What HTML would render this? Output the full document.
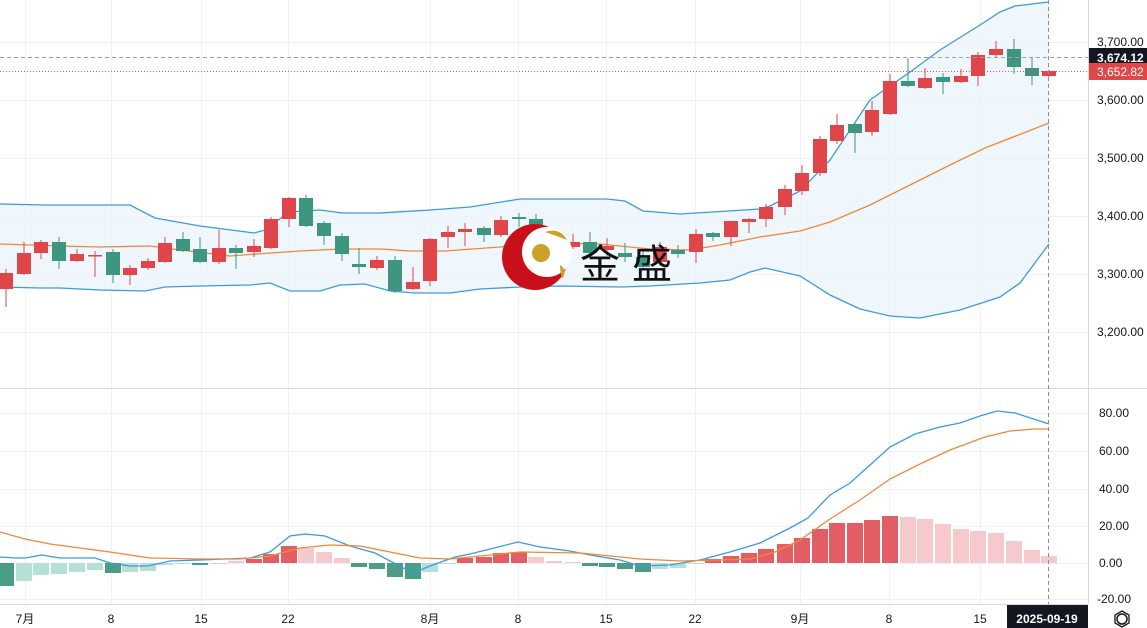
<!DOCTYPE html>
<html><head><meta charset="utf-8"><style>
html,body{margin:0;padding:0;background:#fff;width:1147px;height:628px;overflow:hidden}
svg{display:block;font-family:"Liberation Sans","Noto Sans CJK SC",sans-serif}
</style></head><body>
<svg id="s" width="1147" height="628" viewBox="0 0 1147 628" xmlns="http://www.w3.org/2000/svg">
<rect width="1147" height="628" fill="#fff"/>
<g id="grid" stroke="#f0f1f4" stroke-width="1"></g>
<polygon id="band" fill="#eaf3fb" fill-opacity="0.75"/>
<polyline id="up" fill="none" stroke="#3d9ae0" stroke-width="1.3"/>
<polyline id="lo" fill="none" stroke="#3d9ae0" stroke-width="1.3"/>
<polyline id="mid" fill="none" stroke="#f0883a" stroke-width="1.3"/>
<g id="candles"></g>
<g id="hist"></g>
<polyline id="macd" fill="none" stroke="#3d9ae0" stroke-width="1.3"/>
<polyline id="sig" fill="none" stroke="#f0883a" stroke-width="1.3"/>
<!-- logo -->
<g>
<circle cx="535" cy="257" r="33" fill="#c8101a"/>
<circle cx="547" cy="252" r="25" fill="#fff"/>
<path d="M545 232 q15 -5 22 8 q-10 -4 -22 -8z" fill="#c9a227"/>
<path d="M560 265 q8 5 2 14 q-2 -8 -2 -14z" fill="#c9a227"/>
<circle cx="541" cy="253" r="9" fill="#c9a227"/>
<text x="580" y="278" font-size="40" fill="#111" font-family="'Noto Sans CJK SC',sans-serif" letter-spacing="12">金盛</text>
</g>
<!-- separators -->
<line x1="0" y1="388.5" x2="1147" y2="388.5" stroke="#d6d8de"/>
<line x1="1088.5" y1="0" x2="1088.5" y2="604" stroke="#d6d8de"/>
<line x1="0" y1="604.5" x2="1088" y2="604.5" stroke="#d6d8de"/>
<line x1="0" y1="57.5" x2="1088" y2="57.5" stroke="#9aa0a8" stroke-dasharray="4,3"/>
<line x1="0" y1="71.5" x2="1088" y2="71.5" stroke="#e05050" stroke-dasharray="1,2"/>
<line x1="1048.5" y1="0" x2="1048.5" y2="604" stroke="#8a8f98" stroke-dasharray="4,3"/>
<g id="axis" font-size="12" fill="#131722"></g>
<rect x="1089" y="48" width="58" height="18" fill="#131722"/>
<text x="1097" y="62" font-size="12" fill="#fff" font-weight="bold">3,674.12</text>
<rect x="1089" y="63" width="58" height="17" fill="#e04848"/>
<text x="1097" y="76" font-size="12" fill="#fff">3,652.82</text>
<rect x="1007" y="605" width="81" height="23" fill="#131722"/>
<text x="1047" y="623" font-size="12" fill="#fff" text-anchor="middle" font-weight="bold">2025-09-19</text>
<circle cx="1122" cy="619" r="5" fill="none" stroke="#131722" stroke-width="1.5"/>
<polygon points="1122,611 1129,615 1129,623 1122,627 1115,623 1115,615" fill="none" stroke="#131722" stroke-width="1.3"/>
</svg>
<script>
var NS="http://www.w3.org/2000/svg";
function el(p,t,a,txt){var e=document.createElementNS(NS,t);for(var k in a)e.setAttribute(k,a[k]);if(txt)e.textContent=txt;document.getElementById(p).appendChild(e);return e;}
var vx=[25,111,201,288,430,518,606,695,800,889,980];
vx.forEach(function(x){el("grid","line",{x1:x+.5,y1:0,x2:x+.5,y2:604});});
[42,100,158,216,274,332,413,451,489,526,563,599].forEach(function(y){el("grid","line",{x1:0,y1:y+.5,x2:1088,y2:y+.5});});
// axis labels
[["3,700.00",42],["3,600.00",100],["3,500.00",158],["3,400.00",216],["3,300.00",274],["3,200.00",332],["80.00",413],["60.00",451],["40.00",489],["20.00",526],["0.00",563],["-20.00",599]].forEach(function(a){
 var x=a[0].length>6?1097:1099; if(a[0]=="-20.00")x=1097;
 el("axis","text",{x:x,y:a[1]+4},a[0]);});
[["7月",25],["8",111],["15",201],["22",288],["8月",430],["8",518],["15",606],["22",695],["9月",800],["8",889],["15",980]].forEach(function(a){el("axis","text",{x:a[1],y:623,"text-anchor":"middle"},a[0]);});
function pts(a){return a.map(function(p){return p[0]+","+p[1]}).join(" ");}
var up=[[0,204],[46,205],[130,205],[155,218],[200,226],[254,233],[265,230],[289,212],[320,210],[342,213],[380,213],[430,210],[470,207],[520,199],[607,199],[625,201],[643,211],[680,214],[713,212],[760,209],[770,206],[800,191],[830,160],[870,100],[910,72],[940,50],[980,25],[1000,12],[1015,6],[1049,2]];
var lo=[[0,287],[40,288],[60,288],[100,290],[145,291],[165,287],[200,286],[250,285],[270,283],[290,291],[320,291],[340,285],[365,284],[390,291],[415,293],[450,293],[480,289],[520,287],[560,286],[620,287],[650,286],[700,283],[730,280],[750,272],[765,268],[800,276],[830,295],[860,309],[890,316],[920,318],[960,310],[1000,297],[1020,283],[1049,244]];
var mid=[[0,244],[60,246],[100,247],[150,246],[180,250],[230,256],[270,253],[300,251],[340,249],[380,249],[410,251],[445,251],[500,247],[540,243],[600,244],[650,249],[690,250],[720,245],[760,237],[800,231],[830,222],[870,205],[910,185],[950,165],[985,148],[1049,123]];
document.getElementById("up").setAttribute("points",pts(up));
document.getElementById("lo").setAttribute("points",pts(lo));
document.getElementById("mid").setAttribute("points",pts(mid));
document.getElementById("band").setAttribute("points",pts(up)+" "+pts(lo.slice().reverse()));
var C=[[6,'r',273,289,269,307],[24,'r',253,274,242,275],[41,'r',242,253,240,259],[59,'g',242,261,237,269],[77,'r',254,261,249,262],[95,'r',255,256,251,277],[113,'g',252,275,249,283],[130,'r',268,275,265,285],[148,'r',261,268,258,270],[165,'r',243,262,237,263],[183,'g',239,251,232,252],[200,'g',249,262,237,263],[219,'r',248,262,230,264],[236,'g',248,253,245,269],[254,'r',246,252,239,257],[271,'r',219,248,217,249],[289,'r',198,219,197,227],[306,'g',198,226,195,227],[324,'g',223,236,221,245],[342,'g',236,254,233,261],[359,'g',264,267,248,274],[377,'r',260,268,256,270],[395,'g',260,291,256,293],[413,'r',282,289,267,290],[430,'r',239,281,238,286],[448,'r',232,237,226,248],[465,'r',229,232,223,246],[484,'g',228,235,226,242],[501,'r',220,235,216,237],[519,'g',217,219,213,227],[536,'g',219,250,214,252],[554,'r',248,251,233,257],[573,'r',242,247,234,249],[590,'g',242,253,232,257],[607,'r',246,250,238,256],[625,'g',253,257,243,262],[643,'g',257,267,250,270],[660,'r',247,262,242,266],[678,'g',250,254,245,258],[696,'r',234,252,229,263],[713,'g',233,237,232,241],[731,'r',221,237,221,246],[749,'r',219,222,218,233],[766,'r',207,219,204,227],[785,'r',189,207,185,215],[802,'r',173,191,165,195],[820,'r',139,173,136,176],[837,'r',125,141,114,144],[855,'g',124,133,123,153],[872,'r',110,132,101,136],[890,'r',81,114,74,115],[908,'g',81,86,58,87],[925,'r',78,88,68,89],[943,'g',77,82,73,94],[961,'r',76,82,69,83],[978,'r',55,76,52,86],[996,'r',49,55,41,58],[1014,'g',49,67,39,74],[1032,'g',68,76,58,85],[1049,'r',71,76,70,77]];
C.forEach(function(c){var col=c[1]=='r'?'#e0454a':'#3e9580';
 el("candles","line",{x1:c[0],y1:c[4],x2:c[0],y2:c[5],stroke:col,"stroke-width":1});
 el("candles","rect",{x:c[0]-7,y:c[2],width:14,height:Math.max(1.5,c[3]-c[2]),fill:col});});
// histogram: [center, top/bottom y, type] type: R dark red, P pink, G dark green, L light green
var H=[[6,586,'G'],[24,581,'L'],[41,575,'L'],[59,574,'L'],[77,572,'L'],[95,570,'L'],[113,573,'G'],[130,572,'L'],[148,571,'L'],[165,565,'L'],[183,563.5,'L'],[200,565,'G'],[219,563.5,'L'],[236,561,'P'],[254,559,'R'],[271,554,'R'],[289,546,'R'],[306,548,'P'],[324,552,'P'],[342,558,'P'],[359,567,'G'],[377,569,'G'],[395,577,'G'],[413,579,'G'],[430,572,'L'],[448,564,'L'],[465,558,'R'],[484,557,'R'],[501,553,'R'],[519,552,'R'],[536,557,'P'],[554,561,'P'],[573,562,'P'],[590,566,'G'],[607,567,'G'],[625,569,'G'],[643,572,'G'],[660,569,'L'],[678,568,'L'],[696,564,'L'],[713,559,'R'],[731,556,'R'],[749,553,'R'],[766,549,'R'],[785,544,'R'],[802,538,'R'],[820,529,'R'],[837,523,'R'],[855,523,'R'],[872,520,'R'],[890,516,'R'],[908,517,'P'],[925,519,'P'],[943,524,'P'],[961,529,'P'],[978,531,'P'],[996,533,'P'],[1014,541,'P'],[1032,550,'P'],[1049,556,'P']];
var cols={R:'#e35d64',P:'#f6c9cc',G:'#4a9e86',L:'#b5e0d6'};
H.forEach(function(h){var z=563,y1=Math.min(z,h[1]),y2=Math.max(z,h[1]);
 el("hist","rect",{x:h[0]-8,y:y1,width:16,height:Math.max(1,y2-y1),fill:cols[h[2]]});});
var macd=[[0,557],[15,558],[25,558],[42,555],[60,558],[95,558],[110,563],[130,566],[148,566],[170,561],[200,560],[250,558],[270,552],[290,536],[305,534],[325,536],[350,546],[375,553],[390,561],[413,573],[430,566],[455,557],[470,554],[490,549],[518,542],[540,547],[570,551],[590,555],[620,560],[640,566],[670,565],[700,560],[730,552],[760,543],[790,528],[808,518],[830,495],[850,483],[870,465],[890,447],[915,434],[940,427],[960,423],[980,416],[997,411],[1015,413],[1049,424]];
var sig=[[0,532],[25,539],[50,544],[80,548],[110,552],[150,558],[200,559],[240,559],[270,556],[300,548],[330,545],[360,546],[390,552],[420,558],[450,559],[480,556],[520,552],[580,553],[610,556],[640,559],[680,561],[720,560],[750,559],[775,552],[800,540],[830,519],[860,500],[890,479],[920,464],[950,450],[985,437],[1010,431],[1035,429],[1049,429]];
document.getElementById("macd").setAttribute("points",pts(macd));
document.getElementById("sig").setAttribute("points",pts(sig));
</script>
</body></html>
